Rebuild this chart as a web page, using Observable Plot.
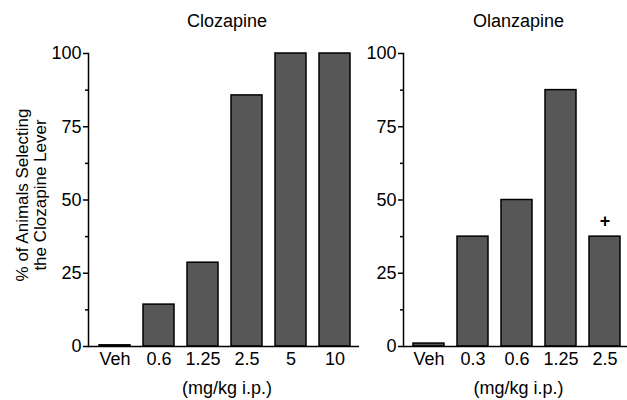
<!DOCTYPE html>
<html>
<head>
<meta charset="utf-8">
<script src="https://cdn.jsdelivr.net/npm/d3@7"></script>
<script src="https://cdn.jsdelivr.net/npm/@observablehq/plot@0.6"></script>
<style>
  body { margin: 0; background: #fff; }
  #wrap { display: flex; flex-direction: row; width: 627px; height: 400px; overflow: hidden; }
  svg { display: block; }
</style>
</head>
<body>
<div id="wrap"></div>
<script>
// Data
const clozapineDoses = ["Veh", "0.6", "1.25", "2.5", "5", "10"];
const clozapineValues = [0.4, 14.3, 28.6, 85.7, 100, 100];
const olanzapineDoses = ["Veh", "0.3", "0.6", "1.25", "2.5"];
const olanzapineValues = [1, 37.5, 50, 87.5, 37.5];
const panelTitles = ["Clozapine", "Olanzapine"];
const xAxisTitle = "(mg/kg i.p.)";
const yAxisTitle = "% of Animals Selecting\nthe Clozapine Lever";
const majorTicks = [0, 25, 50, 75, 100];
const minorTicks = [12.5, 37.5, 62.5, 87.5];
const markDose = ["2.5"];
const markValue = [37.5];
const markText = ["+"];

const FONT = "Liberation Sans, Arial, sans-serif";
const FS = 18;

function panel({doses, values, title, width, marginLeft, marginRight, xRange, yLabel, annotation}) {
  const data = doses.map((d, i) => ({dose: d, value: values[i]}));
  const marks = [
    Plot.barY(data, {x: "dose", y: "value", fill: "#575757", stroke: "#000", strokeWidth: 1.5}),
    Plot.ruleY([0], {stroke: "#000", strokeWidth: 1.5}),
    Plot.frame({anchor: "left", stroke: "#000", strokeWidth: 1.5}),
    Plot.axisY({ticks: majorTicks, tickSize: 5, tickPadding: 2, label: null, fontSize: FS, strokeWidth: 1.5}),
    Plot.axisY({ticks: minorTicks, tickSize: 3, text: null, label: null, strokeWidth: 1.5}),
    Plot.axisX({tickSize: 0, tickPadding: 6, label: null, fontSize: FS}),
    Plot.text([title], {frameAnchor: "top", lineAnchor: "middle", dy: -32, dx: 3, fontSize: FS, fill: "#000"}),
    Plot.text([xAxisTitle], {frameAnchor: "bottom", lineAnchor: "middle", dy: 42, dx: 3, fontSize: FS, fill: "#000"})
  ];
  if (yLabel) {
    marks.push(Plot.text([yLabel], {frameAnchor: "left", textAnchor: "middle", rotate: -90, dx: -57, dy: -5, fontSize: 17, lineHeight: 1.05, fill: "#000"}));
  }
  if (annotation) {
    const ann = annotation.doses.map((d, i) => ({dose: d, value: annotation.values[i], t: annotation.text[i]}));
    marks.push(Plot.text(ann, {x: "dose", y: "value", text: "t", dy: -15, fontSize: FS, fontWeight: "bold", fill: "#000"}));
  }
  return Plot.plot({
    width, height: 400,
    marginLeft, marginRight, marginTop: 53, marginBottom: 54,
    style: {fontFamily: FONT, fontSize: FS + "px", color: "#000", background: "#fff", overflow: "visible"},
    x: {domain: doses, range: xRange, paddingInner: 0.285, paddingOuter: 0.179, axis: null},
    y: {domain: [0, 100], axis: null},
    marks
  });
}

const wrap = document.getElementById("wrap");
wrap.appendChild(panel({
  doses: clozapineDoses, values: clozapineValues, title: panelTitles[0],
  width: 360, marginLeft: 88, marginRight: 1, xRange: [89, 361], yLabel: yAxisTitle
}));
wrap.appendChild(panel({
  doses: olanzapineDoses, values: olanzapineValues, title: panelTitles[1],
  width: 267, marginLeft: 43, marginRight: 0, xRange: [43, 270.5],
  annotation: {doses: markDose, values: markValue, text: markText}
}));
</script>
</body>
</html>
